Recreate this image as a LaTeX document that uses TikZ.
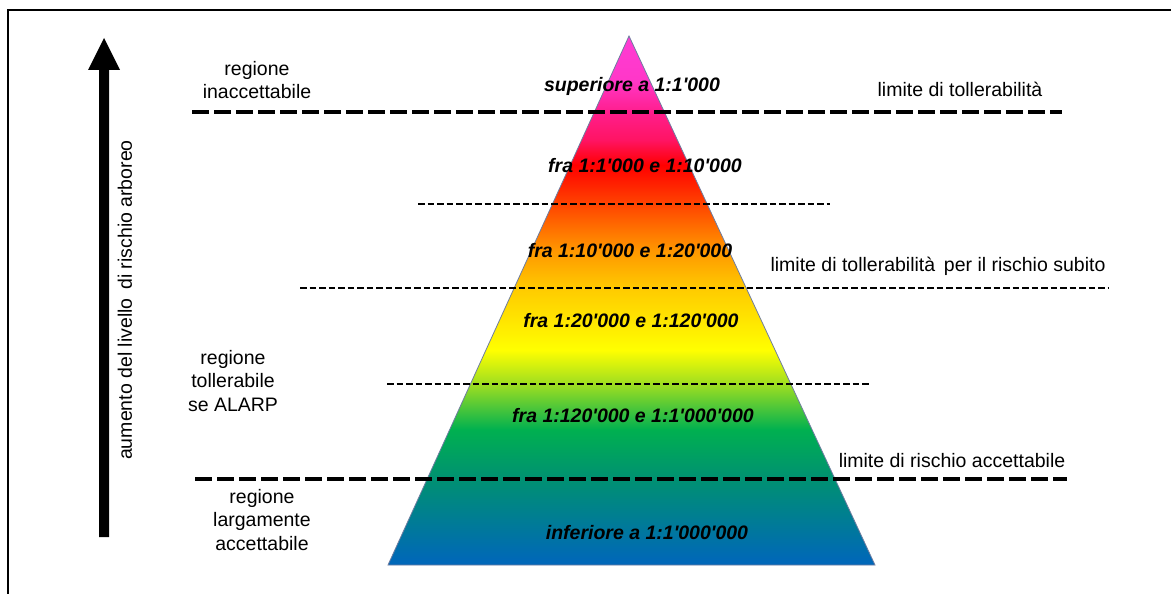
\documentclass[tikz,border=0pt]{standalone}
\usepackage{fontspec}
\setmainfont{Liberation Sans}
\usetikzlibrary{positioning}

\newcommand{\sq}{\textquotesingle}

\definecolor{rbottom}{RGB}{0,102,187}
\definecolor{rteal}{RGB}{0,144,115}
\definecolor{rgreen}{RGB}{0,176,80}
\definecolor{rlime}{RGB}{155,221,34}
\definecolor{ryellow}{RGB}{255,255,0}
\definecolor{rgold}{RGB}{255,204,0}
\definecolor{rorange}{RGB}{255,150,0}
\definecolor{rdorange}{RGB}{255,70,0}
\definecolor{rred}{RGB}{255,0,0}
\definecolor{rcrimson}{RGB}{255,20,100}
\definecolor{rrose}{RGB}{255,30,140}
\definecolor{rpink}{RGB}{255,55,200}
\definecolor{rtop}{RGB}{255,60,212}
\definecolor{redge}{RGB}{110,125,160}

\pgfdeclareverticalshading{riskshade}{100bp}{
  color(0bp)=(rbottom); color(25bp)=(rbottom); color(33bp)=(rteal);
  color(37.8bp)=(rgreen); color(42bp)=(rlime); color(45.3bp)=(ryellow);
  color(51bp)=(rgold); color(54.8bp)=(rorange); color(59bp)=(rdorange);
  color(62.8bp)=(rred); color(65.2bp)=(rcrimson); color(67.8bp)=(rrose);
  color(70.8bp)=(rpink); color(75bp)=(rtop); color(100bp)=(rtop)}

\begin{document}
\begin{tikzpicture}[x=1pt,y=-1pt,
  every node/.style={font=\fontsize{19.5}{23.5}\selectfont, align=center, inner sep=0pt},
  band/.style={font=\fontsize{19.5}{23.5}\selectfont\bfseries\itshape},
  thickdash/.style={line width=4.3pt, dash pattern=on 17pt off 5pt},
  thindash/.style={line width=2.3pt, dash pattern=on 6.5pt off 3pt}]
\useasboundingbox (0,0) rectangle (1171,594);
\clip (0,0) rectangle (1171,594);
\draw[line width=2pt] (8,610) -- (8,10) -- (1190,10);

\shade[shading=riskshade, draw=redge, line width=0.8pt] (629,36) -- (875,565) -- (388,565) -- cycle;

\fill (99,537) -- (99,70) -- (88,70) -- (104,38) -- (120,70) -- (109,70) -- (109,537) -- cycle;
\node[rotate=90] (axis) at (125,300) {aumento del livello\, di rischio arboreo};

\draw[thickdash] (192,112) -- (1062,112);
\draw[thindash] (418,204) -- (830,204);
\draw[thindash] (300,288) -- (1108,288);
\draw[thindash] (387,384) -- (870,384);
\draw[thickdash] (195,479) -- (1067,479);

\node[band] (band1) at (632,86) {superiore a 1:1\sq000};
\node[band] (band2) at (645,166) {fra 1:1\sq000 e 1:10\sq000};
\node[band] (band3) at (630,251) {fra 1:10\sq000 e 1:20\sq000};
\node[band] (band4) at (631,321) {fra 1:20\sq000 e 1:120\sq000};
\node[band] (band5) at (633,416) {fra 1:120\sq000 e 1:1\sq000\sq000};
\node[band] (band6) at (647,533) {inferiore a 1:1\sq000\sq000};

\node (reginacc) at (257,80) {regione\\inaccettabile};
\node (regtoll) at (233,381) {regione\\tollerabile\\se ALARP};
\node (reglarg) at (262,520) {regione\\largamente\\accettabile};

\node (limtoll) at (960,89) {limite di tollerabilità};
\node (limsub) at (938,266) {limite di tollerabilità\, per il rischio subito};
\node (limacc) at (952,461) {limite di rischio accettabile};
\end{tikzpicture}
\end{document}
